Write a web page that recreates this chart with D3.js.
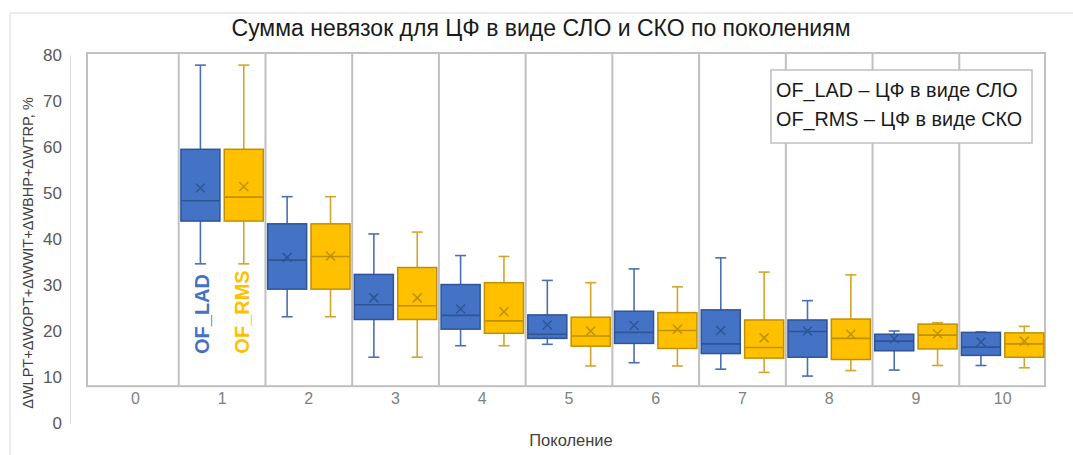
<!DOCTYPE html>
<html><head><meta charset="utf-8">
<script src="https://cdn.jsdelivr.net/npm/d3@7"></script>
<style>body{margin:0;background:#fff;font-family:"Liberation Sans",Arial,sans-serif;}</style>
</head><body><svg id="c" width="1073" height="455"></svg>
<script>
const categories = ["0","1","2","3","4","5","6","7","8","9","10"];
const seriesNames = ["OF_LAD","OF_RMS"];
const legendLabels = ["OF_LAD – ЦФ в виде СЛО","OF_RMS – ЦФ в виде СКО"];
const yTicks = [0,10,20,30,40,50,60,70,80];
// per category (1..10): [whiskerLow, q1, median, q3, whiskerHigh, mean]
const ladStats = [
  null,
  [34.6,43.9,48.3,59.5,77.8,51.1],
  [23.1,29.1,35.4,43.3,49.2,36.0],
  [14.3,22.5,25.7,32.3,41.1,27.2],
  [16.8,20.4,23.4,30.1,36.4,24.8],
  [17.1,18.4,19.3,23.5,31.0,21.3],
  [13.1,17.3,19.7,24.3,33.5,21.2],
  [11.7,15.1,17.2,24.6,35.9,20.1],
  [10.2,14.3,19.9,22.4,26.6,20.0],
  [11.5,15.7,17.8,19.3,20.0,18.3],
  [12.5,14.7,16.5,19.7,19.8,17.6]
];
const rmsStats = [
  null,
  [34.6,43.9,49.1,59.5,77.8,51.4],
  [23.1,29.1,36.2,43.3,49.2,36.3],
  [14.3,22.5,25.5,33.8,41.5,27.2],
  [16.8,19.5,22.2,30.5,36.2,24.2],
  [12.4,16.7,18.9,23.0,30.5,20.0],
  [12.4,16.2,20.1,24.0,29.6,20.4],
  [11.0,14.1,16.4,22.4,32.8,18.5],
  [11.4,13.8,18.4,22.6,32.2,19.3],
  [12.5,16.1,19.1,21.5,21.8,19.4],
  [12.0,14.3,17.2,19.6,21.0,17.8]
];
const title = "Сумма невязок для ЦФ в виде СЛО и СКО по поколениям";
const yTitle = "ΔWLPT+ΔWOPT+ΔWWIT+ΔWBHP+ΔWTRP, %";
const xTitle = "Поколение";

const fills = {OF_LAD:"#4472C4", OF_RMS:"#FFC000"};
const strokes = {OF_LAD:"#2F5597", OF_RMS:"#BF9000"};
const whiskerCol = {OF_LAD:"#4A6FB5", OF_RMS:"#D4A52A"};

const svg = d3.select("#c");
const x = d3.scaleBand().domain(categories).range([92,1046]);
const y = d3.scaleLinear().domain([0,80]).range([423,55]);
const sub = d3.scaleBand().domain(seriesNames).range([0,x.bandwidth()]).paddingInner(0.1).paddingOuter(0.05);

// outer chart border (partially visible)
svg.append("path").attr("d","M10,470 L10,13 L1080,13").attr("fill","none").attr("stroke","#d9d9d9").attr("stroke-width",1);

// title
svg.append("text").attr("x",541).attr("y",36).attr("text-anchor","middle")
  .attr("font-size",23).attr("fill","#1a1a1a").text(title);

// plot frame
const frameTop = 53, frameBot = y(8);
const frameL = x.range()[0]-5, frameR = x.range()[1]-1;
svg.append("rect").attr("x",frameL).attr("y",frameTop).attr("width",frameR-frameL).attr("height",frameBot-frameTop)
  .attr("fill","none").attr("stroke","#c0c0c0").attr("stroke-width",2);
categories.slice(1).forEach(c=>{
  svg.append("line").attr("x1",x(c)).attr("x2",x(c)).attr("y1",frameTop).attr("y2",frameBot)
    .attr("stroke","#c0c0c0").attr("stroke-width",2);
});

// y axis
const ya = svg.append("g").attr("transform","translate(70,0)")
  .call(d3.axisLeft(y).tickValues(yTicks).tickSize(0).tickPadding(8));
ya.select(".domain").attr("stroke","#d9d9d9");
ya.selectAll("text").attr("font-size",17).attr("fill","#595959").attr("font-family","Liberation Sans, Arial, sans-serif");

// x labels
const xa = svg.append("g").attr("transform",`translate(0,${frameBot})`)
  .call(d3.axisBottom(x).tickSize(0).tickPadding(6));
xa.select(".domain").remove();
xa.selectAll("text").attr("font-size",16).attr("fill","#808080").attr("font-family","Liberation Sans, Arial, sans-serif");

svg.append("text").attr("x",571).attr("y",446).attr("text-anchor","middle").attr("font-size",16.5).attr("fill","#404040").text(xTitle);
svg.append("text").attr("transform","translate(33,253) rotate(-90)").attr("text-anchor","middle")
  .attr("font-size",14.5).attr("fill","#404040").text(yTitle);

// boxes
function drawSeries(name, stats){
  const g = svg.append("g");
  categories.forEach((c,i)=>{
    const s = stats[i]; if(!s) return;
    const [lo,q1,med,q3,hi,mean] = s;
    const x0 = x(c)+sub(name), w = sub.bandwidth(), cx = x0+w/2;
    const cap = 5.5;
    g.append("line").attr("x1",cx).attr("x2",cx).attr("y1",y(hi)).attr("y2",y(q3)).attr("stroke",whiskerCol[name]).attr("stroke-width",1.6);
    g.append("line").attr("x1",cx).attr("x2",cx).attr("y1",y(q1)).attr("y2",y(lo)).attr("stroke",whiskerCol[name]).attr("stroke-width",1.6);
    g.append("line").attr("x1",cx-cap).attr("x2",cx+cap).attr("y1",y(hi)).attr("y2",y(hi)).attr("stroke",whiskerCol[name]).attr("stroke-width",1.6);
    g.append("line").attr("x1",cx-cap).attr("x2",cx+cap).attr("y1",y(lo)).attr("y2",y(lo)).attr("stroke",whiskerCol[name]).attr("stroke-width",1.6);
    g.append("rect").attr("x",x0).attr("y",y(q3)).attr("width",w).attr("height",y(q1)-y(q3))
      .attr("fill",fills[name]).attr("stroke",strokes[name]).attr("stroke-width",1.5);
    g.append("line").attr("x1",x0).attr("x2",x0+w).attr("y1",y(med)).attr("y2",y(med)).attr("stroke",strokes[name]).attr("stroke-width",1.6);
    const m = 4.5, my = y(mean);
    g.append("path").attr("d",`M${cx-m},${my-m}L${cx+m},${my+m}M${cx-m},${my+m}L${cx+m},${my-m}`)
      .attr("stroke",strokes[name]).attr("stroke-width",1.5).attr("fill","none");
  });
}
drawSeries("OF_LAD", ladStats);
drawSeries("OF_RMS", rmsStats);

// series annotations (vertical labels)
seriesNames.forEach((n,i)=>{
  const cx = x("1")+sub(n)+sub.bandwidth()/2;
  svg.append("text").attr("transform",`translate(${cx+(i===0?9:5)},${i===0?314:312}) rotate(-90)`)
    .attr("text-anchor","middle").attr("font-size",20).attr("font-weight","bold")
    .attr("fill",fills[n]).text(n);
});

// legend
const lg = svg.append("g");
lg.append("rect").attr("x",771).attr("y",70).attr("width",261).attr("height",73)
  .attr("fill","#fff").attr("stroke","#c0c0c0").attr("stroke-width",1.5);
legendLabels.forEach((t,i)=>{
  lg.append("text").attr("x",776).attr("y",97+i*29).attr("font-size",19.8).attr("fill","#1a1a1a").text(t);
});
</script></body></html>
